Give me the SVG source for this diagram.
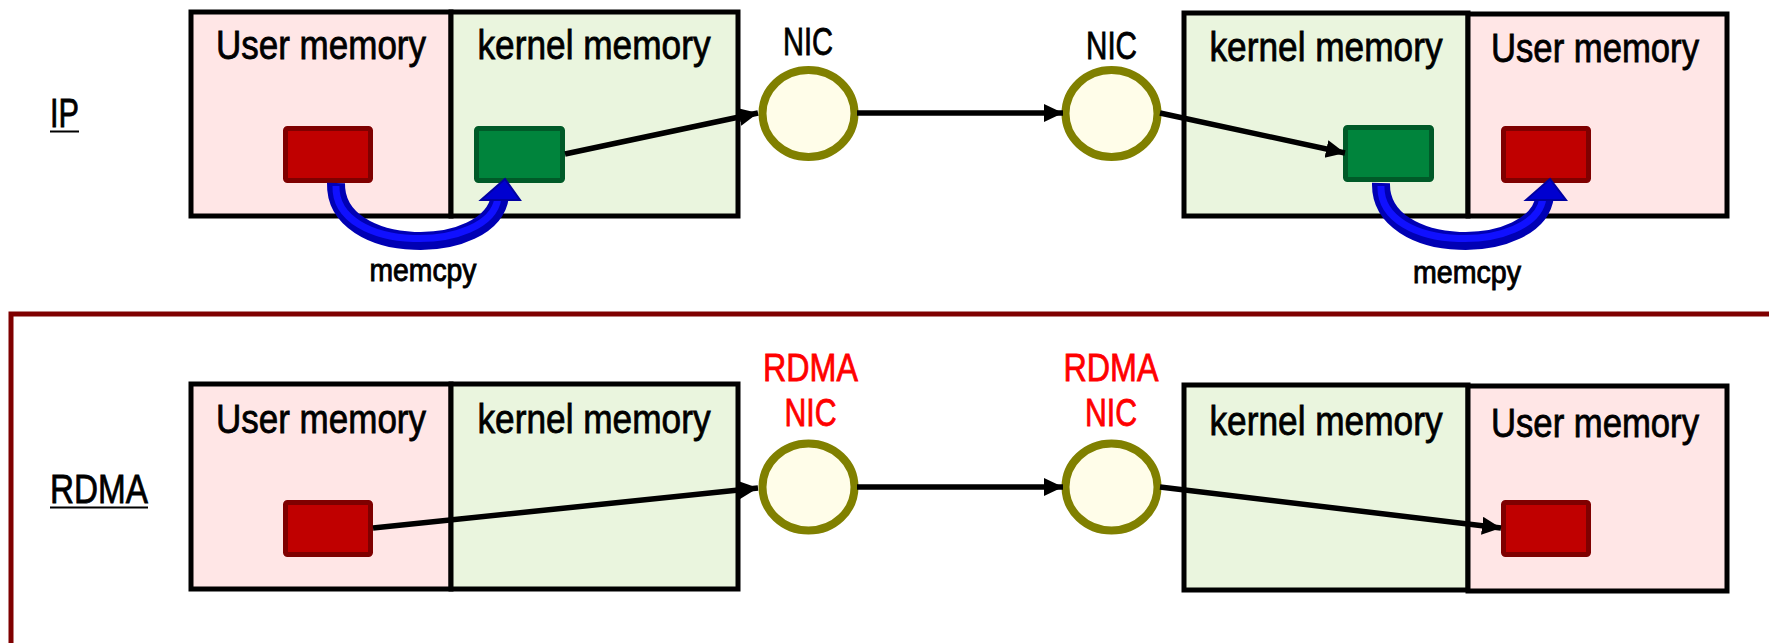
<svg xmlns="http://www.w3.org/2000/svg" width="1769" height="643" viewBox="0 0 1769 643">
<style>
.user{fill:#ffe6e6;stroke:#000;stroke-width:5}
.kern{fill:#eaf5de;stroke:#000;stroke-width:5}
.lbl{font-family:"Liberation Sans",Arial,sans-serif;font-size:41px;fill:#000;stroke:#000;stroke-width:0.8;text-anchor:middle}
.nic{fill:#fffde9;stroke:#808000;stroke-width:8}
.nict{font-family:"Liberation Sans",Arial,sans-serif;font-size:38px;stroke-width:0.8;text-anchor:middle}
.red{fill:#c00000;stroke:#7f0000;stroke-width:5}
.grn{fill:#00843c;stroke:#005a28;stroke-width:5}
.conn{stroke:#000;stroke-width:5.5;fill:none;marker-end:url(#ah)}
.cp{font-family:"Liberation Sans",Arial,sans-serif;font-size:31px;fill:#000;stroke:#000;stroke-width:0.9;text-anchor:middle}
.sec{font-family:"Liberation Sans",Arial,sans-serif;font-size:41px;fill:#000;stroke:#000;stroke-width:0.8}
.blueo{fill:none;stroke:#0000b4;stroke-width:18}
.bluei{fill:none;stroke:#1010ff;stroke-width:7}
</style>
<defs>
<marker id="ah" markerUnits="userSpaceOnUse" markerWidth="22" markerHeight="22" refX="19" refY="9" orient="auto">
<path d="M0,0 L19,9 L0,18 z" fill="#000"/>
</marker>
</defs>
<rect x="11" y="314" width="1800" height="400" fill="none" stroke="#7f0000" stroke-width="5"/>
<g id="label-ip">
<text class="sec" x="50" y="127" textLength="29" lengthAdjust="spacingAndGlyphs">IP</text>
<line x1="50" y1="131.5" x2="79" y2="131.5" stroke="#000" stroke-width="2"/>
</g>
<g id="label-rdma">
<text class="sec" x="50" y="503" textLength="98" lengthAdjust="spacingAndGlyphs">RDMA</text>
<line x1="50" y1="507.5" x2="148" y2="507.5" stroke="#000" stroke-width="2"/>
</g>
<g id="ip-left-host">
<rect class="user" x="191" y="12" width="260" height="204"/>
<rect class="kern" x="451" y="12" width="287" height="204"/>
<text class="lbl" x="321" y="59" textLength="210" lengthAdjust="spacingAndGlyphs">User memory</text>
<text class="lbl" x="594" y="59" textLength="233" lengthAdjust="spacingAndGlyphs">kernel memory</text>
</g>
<g id="ip-left-user-buf"><rect class="red" x="285.5" y="128.5" width="85" height="52" rx="2"/></g>
<g id="ip-left-kernel-buf"><rect class="grn" x="476.5" y="128.5" width="86" height="52" rx="2"/></g>
<g id="ip-nic1">
<ellipse class="nic" cx="808.5" cy="113.5" rx="46" ry="43.5"/>
<text class="nict" x="808" y="55" fill="#000" stroke="#000" textLength="50" lengthAdjust="spacingAndGlyphs">NIC</text>
</g>
<g id="ip-nic2">
<ellipse class="nic" cx="1111.5" cy="113.5" rx="46" ry="43.5"/>
<text class="nict" x="1111.5" y="59" fill="#000" stroke="#000" textLength="51" lengthAdjust="spacingAndGlyphs">NIC</text>
</g>
<g id="ip-right-host">
<rect class="kern" x="1184" y="13" width="284" height="203"/>
<rect class="user" x="1468" y="14" width="259" height="202"/>
<text class="lbl" x="1326" y="61" textLength="233" lengthAdjust="spacingAndGlyphs">kernel memory</text>
<text class="lbl" x="1595" y="62" textLength="208" lengthAdjust="spacingAndGlyphs">User memory</text>
</g>
<g id="ip-right-kernel-buf"><rect class="grn" x="1345.5" y="127.5" width="86" height="52" rx="2"/></g>
<g id="ip-right-user-buf"><rect class="red" x="1503.5" y="128.5" width="85" height="52" rx="2"/></g>
<g id="rdma-left-host">
<rect class="user" x="191" y="384" width="260" height="205"/>
<rect class="kern" x="451" y="384" width="287" height="205"/>
<text class="lbl" x="321" y="433" textLength="210" lengthAdjust="spacingAndGlyphs">User memory</text>
<text class="lbl" x="594" y="433" textLength="233" lengthAdjust="spacingAndGlyphs">kernel memory</text>
</g>
<g id="rdma-left-user-buf"><rect class="red" x="285.5" y="502.5" width="85" height="52" rx="2"/></g>
<g id="rdma-nic1">
<ellipse class="nic" cx="808.5" cy="487" rx="46" ry="43.5"/>
<text class="nict" x="810.5" y="381" fill="#ff0000" stroke="#ff0000" textLength="95" lengthAdjust="spacingAndGlyphs">RDMA</text>
<text class="nict" x="810.5" y="426" fill="#ff0000" stroke="#ff0000" textLength="52" lengthAdjust="spacingAndGlyphs">NIC</text>
</g>
<g id="rdma-nic2">
<ellipse class="nic" cx="1111.5" cy="487" rx="46" ry="43.5"/>
<text class="nict" x="1111" y="381" fill="#ff0000" stroke="#ff0000" textLength="95" lengthAdjust="spacingAndGlyphs">RDMA</text>
<text class="nict" x="1111" y="426" fill="#ff0000" stroke="#ff0000" textLength="52" lengthAdjust="spacingAndGlyphs">NIC</text>
</g>
<g id="rdma-right-host">
<rect class="kern" x="1184" y="385" width="284" height="205"/>
<rect class="user" x="1468" y="386" width="259" height="205"/>
<text class="lbl" x="1326" y="435" textLength="233" lengthAdjust="spacingAndGlyphs">kernel memory</text>
<text class="lbl" x="1595" y="437" textLength="208" lengthAdjust="spacingAndGlyphs">User memory</text>
</g>
<g id="rdma-right-user-buf"><rect class="red" x="1503.5" y="502.5" width="85" height="52" rx="2"/></g>
<g id="connectors">
<line class="conn" x1="565" y1="154" x2="758" y2="113"/>
<line class="conn" x1="857" y1="113" x2="1063" y2="113"/>
<line class="conn" x1="1160" y1="113" x2="1345" y2="153"/>
<line class="conn" x1="373" y1="528" x2="758" y2="488"/>
<line class="conn" x1="857" y1="487" x2="1063" y2="487"/>
<line class="conn" x1="1160" y1="487" x2="1501" y2="528"/>
<path class="blueo" d="M336,183 C334,258 492,258 500,196"/>
<path class="bluei" d="M336,186 C334,254 490,254 498,198"/>
<polygon points="505,179 481,200 520,200" fill="#0000d0" stroke="#0000a0" stroke-width="2"/>
<text class="cp" x="423" y="281" textLength="107" lengthAdjust="spacingAndGlyphs">memcpy</text>
<path class="blueo" d="M1381,183 C1379,258 1537,258 1545,196"/>
<path class="bluei" d="M1381,186 C1379,254 1535,254 1543,198"/>
<polygon points="1550,179 1526,200 1566,200" fill="#0000d0" stroke="#0000a0" stroke-width="2"/>
<text class="cp" x="1467" y="283" textLength="108" lengthAdjust="spacingAndGlyphs">memcpy</text>
</g>
</svg>
